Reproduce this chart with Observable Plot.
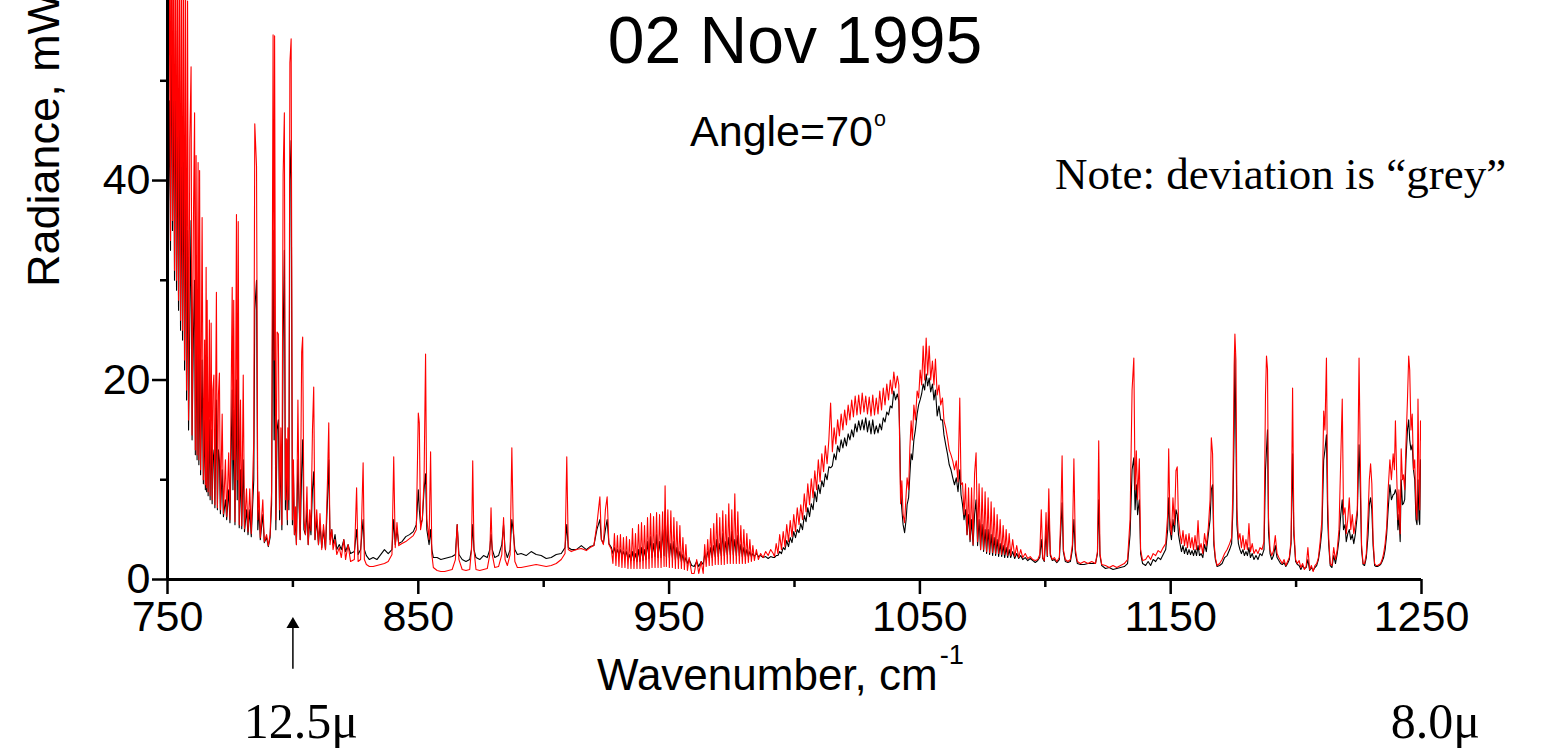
<!DOCTYPE html>
<html>
<head>
<meta charset="utf-8">
<script src="https://cdn.jsdelivr.net/npm/d3@7"></script>
<script src="https://cdn.jsdelivr.net/npm/@observablehq/plot@0.6"></script>
<style>
  html, body { margin: 0; padding: 0; background: #fff; overflow: hidden; }
  #wrap { position: relative; width: 1544px; height: 748px; background: #fff; }
  .lbl { position: absolute; white-space: nowrap; line-height: 1; color: #000; }
  .sans { font-family: "Liberation Sans", Arial, Helvetica, sans-serif; }
  .serif { font-family: "Liberation Serif", "Times New Roman", Times, serif; }
</style>
</head>
<body>
<div id="wrap"></div>
<script>
// ---- data ----
const wavenumber = [
  750.4,750.8,751.2,751.6,752.0,752.4,752.8,753.2,753.6,754.0,
  754.4,754.8,755.2,755.6,756.0,756.4,756.8,757.2,757.6,758.0,
  758.4,758.9,759.4,759.8,760.3,760.8,761.1,761.4,761.8,762.2,
  762.5,762.8,763.2,763.8,764.3,764.8,765.1,765.4,765.6,765.8,
  766.2,766.7,767.0,767.4,767.8,768.1,768.5,768.9,769.5,769.9,
  770.3,770.7,771.1,771.8,772.3,773.1,773.6,774.4,774.9,775.8,
  776.1,776.4,776.9,777.5,777.8,778.2,778.6,779.1,779.6,780.2,
  780.7,781.5,782.1,782.8,783.4,784.4,784.8,785.5,786.0,786.5,
  787.0,788.0,788.6,789.5,790.2,790.9,791.5,792.1,792.5,792.7,
  793.2,793.7,794.2,794.7,795.2,795.6,796.1,796.6,797.0,797.4,
  797.8,798.0,798.4,798.8,799.3,799.8,800.2,800.6,801.0,801.4,
  802.0,802.4,802.9,803.5,803.9,804.4,805.0,805.6,806.1,806.7,
  807.2,807.8,808.3,808.8,809.5,810.2,810.8,811.5,812.2,813.0,
  813.8,814.3,814.8,815.5,816.0,816.8,817.5,818.5,819.3,820.3,
  821.0,822.0,823.0,824.5,825.4,826.0,827.0,828.0,828.5,829.3,
  830.5,832.0,833.5,835.0,836.5,838.0,839.5,840.2,840.8,841.5,
  842.2,843.5,845.0,846.5,848.0,849.2,850.0,850.4,850.9,851.6,
  852.3,852.9,853.4,854.3,854.9,855.4,856.0,857.5,859.0,860.5,
  862.0,863.5,864.8,865.5,866.2,867.5,869.0,870.5,871.2,871.7,
  872.2,873.0,874.5,876.0,877.5,878.5,879.0,879.5,880.5,882.0,
  883.3,884.0,884.6,885.5,886.6,887.3,887.8,888.5,889.5,891.0,
  893.0,895.0,897.0,899.0,901.0,903.0,905.0,907.0,908.5,909.2,
  909.8,911.0,913.0,915.0,917.0,918.5,920.0,921.2,922.4,923.0,
  923.8,924.6,925.3,926.0,927.0,927.6,928.2,928.8,929.4,930.0,
  930.6,931.2,931.8,932.4,933.0,933.6,934.2,934.8,935.4,936.0,
  936.6,937.2,937.8,938.4,939.0,939.6,940.2,940.8,941.4,942.0,
  942.6,943.2,943.8,944.4,945.0,945.6,946.2,946.8,947.4,948.0,
  948.4,948.9,949.5,950.1,950.7,951.3,951.9,952.5,953.1,953.7,
  954.3,954.9,955.5,956.1,956.7,957.3,958.0,959.0,960.0,961.0,
  961.8,962.8,963.6,964.2,964.8,965.4,966.0,966.6,967.2,967.8,
  968.4,969.0,969.6,970.2,970.8,971.4,972.0,972.6,973.2,973.8,
  974.4,975.0,975.6,976.2,976.8,977.4,978.0,978.6,979.2,979.8,
  980.4,981.0,981.6,982.2,982.8,983.4,984.0,984.8,985.6,986.5,
  987.5,988.5,989.5,990.5,991.5,992.0,992.7,993.4,994.1,994.8,
  995.5,996.2,996.9,997.6,998.3,999.0,999.7,1000.4,1001.1,1001.8,
  1002.5,1003.2,1003.9,1004.6,1005.3,1006.0,1006.7,1007.4,1008.1,1008.8,
  1009.5,1010.2,1010.9,1011.6,1012.3,1013.0,1013.7,1014.4,1015.1,1015.8,
  1016.5,1017.2,1017.9,1018.6,1019.3,1020.0,1020.7,1021.4,1022.1,1022.8,
  1023.5,1024.2,1024.9,1025.6,1026.3,1027.0,1027.7,1028.4,1029.1,1029.8,
  1030.5,1031.2,1031.9,1032.6,1033.3,1034.0,1034.7,1035.4,1036.1,1036.8,
  1037.5,1038.2,1038.9,1039.6,1040.3,1041.0,1041.6,1042.0,1042.3,1042.8,
  1043.3,1043.9,1044.5,1044.9,1045.5,1046.0,1046.5,1047.0,1047.6,1048.2,
  1048.9,1049.5,1050.1,1050.7,1051.3,1051.9,1052.5,1053.1,1053.7,1054.3,
  1055.0,1055.6,1056.2,1056.9,1057.6,1058.3,1059.0,1059.6,1060.3,1061.0,
  1061.7,1062.4,1063.1,1063.8,1064.5,1065.2,1065.9,1066.4,1067.0,1067.6,
  1068.2,1068.8,1069.4,1070.0,1070.6,1071.2,1071.8,1072.4,1073.0,1073.6,
  1074.2,1074.8,1075.4,1076.0,1076.6,1077.2,1077.8,1078.4,1079.0,1079.6,
  1080.2,1080.8,1081.4,1082.0,1082.6,1083.2,1083.8,1084.4,1085.0,1085.6,
  1086.2,1087.0,1087.8,1088.6,1089.4,1090.2,1091.0,1092.0,1093.0,1094.0,
  1095.0,1096.0,1097.0,1097.8,1098.4,1099.0,1099.6,1100.3,1100.8,1101.4,
  1102.0,1102.8,1103.6,1104.6,1105.6,1106.2,1106.7,1107.2,1108.0,1109.0,
  1110.0,1110.8,1111.4,1112.0,1112.8,1114.0,1115.5,1117.0,1118.5,1120.0,
  1120.8,1121.3,1121.8,1122.5,1124.0,1125.5,1127.0,1128.5,1130.0,1131.5,
  1132.8,1133.8,1134.6,1135.3,1135.8,1136.3,1136.8,1137.5,1138.0,1138.8,
  1140.0,1141.0,1142.0,1143.0,1144.0,1145.0,1146.0,1147.0,1148.0,1148.8,
  1149.2,1149.7,1150.3,1150.9,1151.5,1152.1,1152.6,1153.1,1153.7,1154.3,
  1154.9,1155.5,1156.1,1156.7,1157.3,1157.9,1158.5,1159.1,1159.7,1160.3,
  1160.9,1161.5,1162.1,1162.8,1163.5,1164.2,1165.0,1165.7,1166.2,1166.7,
  1167.2,1167.8,1168.5,1169.5,1170.5,1171.5,1172.5,1173.5,1174.3,1174.8,
  1175.3,1175.6,1176.0,1176.4,1177.0,1177.6,1178.2,1178.8,1179.4,1180.0,
  1180.6,1181.2,1181.8,1182.5,1183.2,1184.0,1184.8,1185.6,1186.4,1187.2,
  1187.8,1188.2,1188.6,1189.0,1189.6,1190.3,1191.0,1191.7,1192.4,1193.1,
  1193.8,1194.5,1195.2,1195.9,1196.6,1197.3,1198.0,1198.6,1199.1,1199.8,
  1200.5,1201.2,1201.9,1202.6,1203.3,1204.0,1204.7,1205.4,1206.1,1206.8,
  1207.5,1208.2,1208.9,1209.6,1210.3,1211.0,1211.5,1212.1,1212.6,1213.0,
  1213.6,1214.3,1215.0,1215.7,1216.4,1217.1,1217.8,1218.4,1218.9,1219.5,
  1220.0,1220.6,1221.2,1221.8,1222.4,1223.0,1223.6,1224.4,1225.1,1225.6,
  1226.1,1226.7,1227.3,1228.0,1228.7,1229.2,1229.7,1230.2,1230.7,1231.3,
  1231.9,1232.5,1233.1,1233.7,1234.3,1234.9,1235.5,1236.1,1236.7,1237.4,
  1238.0,1238.7,1239.2,1239.6,1240.1,1240.6,1241.0,1241.5,1241.9,1242.4,
  1242.8,1243.3,1243.8,1244.4,1244.9,1245.3,1245.8,1246.3,1246.8,1247.3,
  1247.8,1248.2,1248.6,1249.0,1249.3,1249.6,1249.9
];
const radianceRed = [
  40,72,34,75,36,66,31,70,30,64,
  28,68,26,62,25,65,22,60,19,58,
  16,44,51.4,14.5,35,46.8,13,42.5,12.5,41.8,
  12,41,11,36.3,10,24,9.5,31.3,9.2,28,
  8.8,26,8.4,25.7,8,19,20.5,7.5,28.8,7.2,
  18.5,20.7,7,16.6,6.6,12,6.3,12.7,6,29.3,
  12,28,5.8,36.6,10,35.9,5.5,18,5.4,20.5,
  5.1,9.1,4.8,9.1,4.6,14,45.7,41.4,6,8.8,
  4.2,8,3.8,4.5,3.4,4.5,8.8,54.6,22,54.5,
  6,24.8,24.6,7,15.2,5.5,40.5,46.8,8,14.1,
  6,15.2,8,51.8,54.2,6,12,4.5,7.3,3.5,
  18,9,4,22.8,24.3,6,4.5,9.3,3.5,7,
  4.9,15,19.3,4,7,3.5,6.6,3,5.5,3,
  10,15.7,3.5,5,3,4,2.5,3.2,2.2,4,
  2,3.5,1.8,2,9.2,1.8,2,11.7,2,1.5,
  1.3,1.3,1.4,1.5,1.6,1.8,2.5,12.3,3.2,5.7,
  3.4,3.6,3.8,4.1,4.4,5,16.7,15.7,5,6,
  10,22.6,6,4,12.8,2.5,1.2,0.9,0.8,0.8,
  0.9,1.0,2,5.5,2,1.0,0.9,1.0,3,11.9,
  3,1.0,0.9,1.0,1.1,2.5,7.2,2.5,1.2,1.3,
  2.5,6.2,2,1.4,2.5,13.2,6,1.8,1.2,1.2,
  1.3,1.4,1.5,1.4,1.3,1.4,1.6,2.0,2.6,12.3,
  3,2.8,3.0,3.1,2.9,3.2,3.4,5.5,8.3,4,
  3.5,7,8.3,3.5,3,1.6,4.6,1.4,4.4,1.3,
  4.5,1.2,4.2,1.2,4.3,1.1,4.0,1.1,5.1,1.1,
  4.6,1.1,5.5,1.1,5.7,1.1,5.4,1.1,6.2,1.1,
  6.6,1.2,6.3,1.2,6.7,1.2,6.5,1.2,6.8,1.3,
  9.4,1.3,7.0,1.2,6.9,1.2,6.2,1.1,5.8,1.1,
  5.4,1.1,4.2,1.0,3.5,0.9,2.2,0.6,0.6,2.0,
  0.6,1.8,0.6,3.5,1.3,4.0,1.4,5.1,1.4,5.6,
  1.5,6.6,1.5,6.2,1.5,6.9,1.5,6.5,1.6,7.6,
  1.6,7.0,1.6,8.6,1.6,6.8,1.6,5.4,1.6,5.0,
  1.6,4.6,1.7,4.0,1.8,3.4,1.9,3.0,2.0,2.6,
  2.2,2.8,2.4,3.0,2.6,2.3,3.6,2.6,4.5,3.0,
  4.8,3.3,5.5,3.8,5.9,4.3,6.5,4.8,7.2,5.5,
  7.5,6.0,8.6,6.8,9.6,7.5,10.1,8.2,10.9,9.0,
  12.0,9.8,12.6,10.8,13.4,11.6,14.0,17.7,12.8,15.2,
  13.6,16.0,14.4,16.6,15.0,17.0,15.5,17.5,16.0,18.0,
  16.3,18.4,16.5,18.5,16.6,18.7,16.8,18.4,16.6,18.3,
  16.4,18.5,16.5,18.2,16.6,18.9,17.0,19.2,17.5,19.6,
  18.0,20.0,18.6,20.8,19.2,20.4,19.5,12,7.6,9.9,
  6.5,5.7,8.5,10.2,9.0,13.2,15.9,14.0,17.5,16.0,
  18.9,18.2,21.0,19.5,23.4,20.0,24.2,20.5,23.4,20.0,
  21.9,19.5,22.1,18.5,19.5,17.5,18.2,15.9,15.2,14.2,
  13.0,12.5,11.9,11.0,11.9,9.8,18.2,9.5,9.7,6.5,
  9.6,4.5,9.2,4.0,9.2,3.5,10.6,12.7,3.8,9.6,
  3.0,9.2,3.0,8.8,2.8,8.2,2.7,7.8,2.7,7.2,
  2.6,6.5,2.6,6.0,2.5,5.4,2.5,5.0,2.4,4.6,
  2.4,4.0,2.3,3.4,2.2,3.0,2.2,2.6,2.1,2.3,
  2.0,1.9,2.0,2.5,7.0,2.2,1.9,6.7,2.4,9.1,
  2.6,2.0,2.2,1.8,2.2,6.5,12.4,3.0,2.0,1.8,
  2.0,3.5,12.1,3.0,1.8,1.6,1.8,1.6,1.8,1.6,
  2.8,13.9,2.6,1.5,1.4,1.2,1.4,1.2,1.4,1.6,
  2.0,6.0,19.0,22.2,9.0,12.9,8.0,12.1,3.0,1.9,
  2.0,2.4,2.0,2.6,2.4,2.9,2.7,3.2,3.6,6.5,
  13.1,6.0,4.5,8.2,5.5,10.9,11.3,6.0,4.6,3.6,
  4.9,3.4,4.5,3.2,4.6,3.2,4.2,3.0,4.4,3.0,
  5.9,3.0,3.6,2.6,4.6,3.4,5.2,8.0,14.2,12.6,
  4.0,2.2,1.4,1.6,2.0,2.6,3.0,3.6,4.2,9.0,
  21.5,24.6,22.0,7.2,4.0,4.6,3.2,4.4,3.0,4.0,
  3.0,5.6,2.8,3.6,2.6,3.0,2.6,3.2,3.0,3.8,
  18.5,22.4,21.1,6.2,3.0,2.4,2.9,4.4,2.6,2.2,
  1.9,1.6,2.0,1.4,1.8,2.2,4.0,19.2,5.2,2.0,
  1.6,1.9,1.2,1.6,1.0,1.3,3.2,1.0,1.4,0.8,
  1.4,1.6,2.2,3.8,6.0,16.9,15.0,22.2,8.0,4.2,
  1.6,1.4,3.2,2.0,3.0,5.0,12.0,18.1,6.5,7.2,
  4.6,6.0,8.2,5.0,6.5,4.6,5.5,7.0,22.2,12.0,
  3.5,1.6,1.6,2.6,6.5,10.0,11.6,9.6,4.0,1.6,
  1.4,1.4,1.5,1.6,2.0,2.6,3.6,5.2,9.0,12.0,
  10.0,12.6,11.0,15.9,10.6,6.0,9.0,4.6,13.1,10.0,
  10.5,9.0,13.5,18.0,22.4,21.0,15.0,16.6,11.0,12.0,
  7.2,6.0,18.1,10.0,7.0,15.9,14.0
];
const radianceBlack = [
  38,48,33,60,35,52,30,55,29,47,
  27,50,25,44,24,46,21,42,18,35,
  15,26,36,14,24,30,12.5,28,12,27,
  11.5,24,10.5,22,9.6,16,9,20,8.8,18,
  8.4,16,8,15,7.6,13,12,7.2,18,7,
  13,12,6.6,11,6.3,8,6,9,5.7,19,
  9,17,5.5,20,8,22,5.2,11,5.1,12,
  4.8,7,4.5,7,4.3,10,27,30,5,7,
  4,6.5,3.7,4.2,3.3,4.2,7.5,35,14,30,
  5,15,16,6,13,5,24,33,7,12,
  5.5,14,7,40,44,5.5,11,4.5,6,3.5,
  12,8,4,11,14,5,4.5,7,3.5,6,
  4.5,9,10.8,4,6,3.5,5.5,3.2,5,3,
  8,12,4,5,3.5,4.5,3,3.5,3,4,
  2.8,3.5,2.6,2.8,5,2.5,3,6,3,2.4,
  2.0,2.2,2.0,2.5,3.0,2.6,3.0,6,3.5,5,
  3.6,3.8,4.3,4.5,4.8,5.5,9,7,5.5,6,
  9,10.6,5,3.5,5,3,2.2,2.2,2.0,2.1,
  2.2,2.3,2.5,5.5,2.5,2.0,1.8,2.0,3,5.5,
  3,2.2,2.0,2.4,2.2,3,4.5,3,2.2,2.4,
  3.5,5.5,3,2.2,3,6,5,3,2.5,2.6,
  2.4,2.8,2.5,2.4,2.1,2.2,2.5,2.6,3.2,5.5,
  3.2,3.0,3.0,3.4,3.0,3.3,3.4,5,6,4,
  3.6,5,6,3.6,3.2,2.6,3.2,2.5,3.0,2.5,
  3.0,2.4,2.8,2.3,2.8,2.0,2.5,1.9,2.8,1.9,
  2.6,1.8,3.0,1.8,3.2,1.9,3.0,2.0,3.8,2.1,
  4.3,2.2,3.6,2.3,4.5,2.2,3.8,2.2,5.0,2.4,
  6.9,2.3,4.8,2.2,3.6,2.2,3.8,2.0,3.2,2.0,
  2.8,1.8,2.5,1.7,2.2,1.6,2.0,1.4,1.3,1.8,
  1.3,1.8,1.5,2.5,2.0,2.8,2.2,3.2,2.2,3.4,
  2.3,4.0,2.3,3.6,2.4,4.6,2.4,3.8,2.5,4.2,
  2.5,4.8,2.5,4.0,2.4,4.4,2.4,3.5,2.3,3.2,
  2.3,3.0,2.3,2.8,2.3,2.6,2.3,2.6,2.3,2.4,
  2.2,2.3,2.1,2.3,2.2,2.2,2.4,2.4,2.8,2.6,
  3.2,3.0,3.9,3.3,4.2,3.7,4.8,4.2,5.0,4.7,
  5.6,5.0,6.4,5.8,7.2,6.3,7.6,7.0,8.8,7.8,
  9.5,8.6,9.9,9.3,10.6,10.0,11.3,11.2,11.4,12.6,
  12.0,13.4,12.8,14.0,13.2,14.2,13.4,14.6,14.0,15.0,
  14.3,15.6,14.8,15.9,15.0,16.0,15.0,16.2,14.8,15.9,
  14.6,16.0,14.6,15.4,14.7,15.6,15.0,16.2,15.8,16.8,
  16.5,17.4,17.2,18.9,18.0,18.6,17.9,14,9,7,
  5.5,4.7,6.0,7.5,8.2,10.5,12.6,12.0,14.0,15.0,
  16.6,17.5,18.0,18.6,19.6,19.0,20.6,19.4,20.2,18.8,
  19.6,18.0,19.0,16.4,17.4,16.0,16.0,14.5,13.5,12.6,
  11.5,11.0,10.2,9.5,10.2,8.8,11.0,8.5,7.5,6.0,
  7.0,4.5,6.5,3.8,6.0,3.4,6.5,8.0,3.4,6.0,
  3.0,5.5,2.8,5.0,2.6,5.0,2.5,4.5,2.4,4.2,
  2.4,4.0,2.3,3.6,2.3,3.4,2.2,3.2,2.2,3.0,
  2.2,2.8,2.1,2.6,2.1,2.4,2.0,2.2,1.9,2.1,
  1.9,1.7,1.9,2.2,4.0,2.1,1.8,4.8,2.3,6.8,
  2.4,1.9,2.0,1.7,2.0,5.0,7.7,2.8,1.8,1.7,
  1.8,3.0,6.0,2.6,1.6,1.5,1.5,1.6,1.6,1.6,
  2.6,8.0,2.4,1.4,1.1,1.2,1.0,1.1,1.2,1.3,
  1.6,4.5,11.0,12.2,7.0,9.5,6.5,8.0,2.6,1.6,
  1.4,1.8,1.4,2.0,1.8,2.2,2.0,2.5,3.0,5.0,
  8.2,5.0,4.0,6.0,4.8,7.0,6.5,4.5,3.6,2.8,
  3.4,2.6,3.2,2.5,3.0,2.5,2.9,2.4,3.0,2.4,
  3.4,2.4,2.6,2.2,3.5,2.8,4.5,6.0,9.0,9.5,
  3.5,2.0,1.3,1.4,1.6,2.2,2.4,3.0,3.6,7.0,
  15.0,22.7,15.0,5.5,3.6,3.0,2.6,3.0,2.4,2.8,
  2.4,3.2,2.2,2.6,2.0,2.4,2.0,2.6,2.4,3.0,
  11.0,13.0,15.0,4.8,2.6,2.0,2.4,3.4,2.2,1.9,
  1.6,1.5,1.7,1.3,1.6,2.0,3.6,12.6,4.5,1.8,
  1.5,1.4,1.0,1.4,1.1,1.2,2.0,0.9,1.2,0.9,
  1.2,1.4,2.0,3.2,5.0,12.0,13.0,14.5,6.0,3.5,
  1.4,1.2,2.4,1.6,2.6,4.0,6.5,8.0,5.0,5.5,
  3.8,4.6,5.0,4.0,4.5,3.6,4.5,6.5,13.5,9.0,
  3.0,1.5,1.4,2.2,4.5,7.5,8.2,7.0,3.4,1.4,
  1.3,1.3,1.4,1.5,1.8,2.2,3.0,4.5,7.0,9.5,
  8.0,8.5,8.6,9.0,8.5,5.0,6.5,3.8,10.0,7.5,
  7.6,8.0,12.0,15.0,16.0,14.0,13.0,13.5,11.0,10.0,
  6.0,5.5,10.0,6.0,5.5,12.0,12.0
];
const majorXTicks = [750, 850, 950, 1050, 1150, 1250];
const minorXTicks = [800, 900, 1000, 1100, 1200];
const majorYTicks = [0, 20, 40];
const minorYTicks = [10, 30, 50];
const arrowWavenumber = [800];            // 12.5 µm = 800 cm-1
const leftWavelengthLabel = ["12.5μ"];
const rightWavelengthLabel = ["8.0μ"];
const rightLabelWavenumber = [1250];

// ---- build ----
const wrap = document.getElementById("wrap");
try {
  if (wavenumber.length !== radianceRed.length || wavenumber.length !== radianceBlack.length) {
    throw new Error(`length mismatch: ${wavenumber.length} ${radianceRed.length} ${radianceBlack.length}`);
  }
  const spectrum = wavenumber.map((w, i) => ({wn: w, red: radianceRed[i], black: radianceBlack[i]}));
  const sans = "Liberation Sans, Arial, Helvetica, sans-serif";
  const serif = "Liberation Serif, Times New Roman, Times, serif";

  const chart = Plot.plot({
    width: 1544,
    height: 748,
    marginLeft: 167,
    marginRight: 123,
    marginTop: 0,
    marginBottom: 169,
    style: {fontFamily: sans, fontSize: "43px", background: "white", color: "black", overflow: "visible"},
    x: {domain: [750, 1250]},
    y: {domain: [0, 58.05]},
    marks: [
      Plot.lineY(spectrum, {x: "wn", y: "black", stroke: "black", strokeWidth: 1.1, clip: true}),
      Plot.lineY(spectrum, {x: "wn", y: "red", stroke: "#ff0000", strokeWidth: 1.1, clip: true}),
      Plot.axisY(minorYTicks, {tickSize: 7, tickFormat: () => "", strokeWidth: 2.5, label: null}),
      Plot.axisY(majorYTicks, {tickSize: 15, tickPadding: 2, tickFormat: "d", strokeWidth: 2.5, fontSize: 43, fontFamily: sans, label: null}),
      Plot.axisX(minorXTicks, {tickSize: 8, tickFormat: () => "", strokeWidth: 2.5, label: null}),
      Plot.axisX(majorXTicks, {tickSize: 15, tickPadding: 6, tickFormat: "d", strokeWidth: 2.5, fontSize: 43, fontFamily: sans, label: null}),
      Plot.ruleX([750], {strokeWidth: 3}),
      Plot.ruleY([0], {strokeWidth: 3}),
      Plot.ruleX(arrowWavenumber, {x: d => d, y1: -9.0, y2: -4.8, strokeWidth: 1.5, stroke: "black"}),
      Plot.dot(arrowWavenumber, {x: d => d, y: -4.5, symbol: "triangle", r: 4.8, fill: "black", stroke: null}),
      Plot.text(leftWavelengthLabel, {x: arrowWavenumber[0], text: d => d, frameAnchor: "bottom", lineAnchor: "bottom", dy: 158, dx: 8, fontFamily: serif, fontSize: 50, fill: "black"}),
      Plot.text(rightWavelengthLabel, {x: rightLabelWavenumber[0], text: d => d, frameAnchor: "bottom", lineAnchor: "bottom", dy: 158, dx: 14, fontFamily: serif, fontSize: 50, fill: "black"})
    ]
  });
  chart.style.position = "absolute";
  chart.style.left = "0px";
  chart.style.top = "0px";
  wrap.appendChild(chart);

  function label(html, cls, css) {
    const d = document.createElement("div");
    d.className = "lbl " + cls;
    d.innerHTML = html;
    Object.assign(d.style, css);
    wrap.appendChild(d);
    return d;
  }
  // title & subtitle
  label("02 Nov 1995", "sans", {left: "795px", top: "7px", fontSize: "66px", transform: "translateX(-50%)"});
  label('Angle=70<span style="font-size:0.5em;position:relative;top:-0.95em;margin-left:1px">o</span>', "sans",
        {left: "788px", top: "110px", fontSize: "43px", transform: "translateX(-50%)"});
  label("Note: deviation is \u201Cgrey\u201D", "serif", {left: "1055px", top: "152px", fontSize: "45px"});
  // axis titles
  label('Wavenumber, cm<span style="font-size:0.62em;position:relative;top:-0.95em;margin-left:2px">-1</span>', "sans",
        {left: "597px", top: "653px", fontSize: "44px"});
  label("Radiance, mW/(m\u00B2 sr cm\u207B\u00B9)", "sans",
        {left: "21px", top: "287px", fontSize: "45px", transformOrigin: "0 0", transform: "rotate(-90deg)"});
} catch (e) {
  wrap.textContent = "Error: " + e.message;
  throw e;
}
</script>
</body>
</html>
